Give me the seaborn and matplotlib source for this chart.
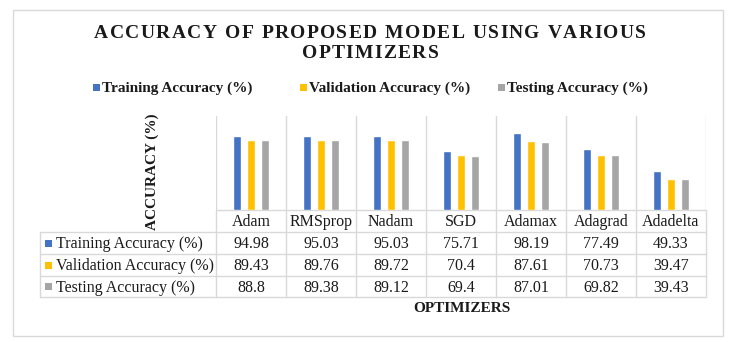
import matplotlib
matplotlib.use("Agg")
import matplotlib.pyplot as plt
import seaborn as sns
import pandas as pd

optimizers = ["Adam", "RMSprop", "Nadam", "SGD", "Adamax", "Adagrad", "Adadelta"]
series_names = ["Training Accuracy (%)", "Validation Accuracy (%)", "Testing Accuracy (%)"]
training = [94.98, 95.03, 95.03, 75.71, 98.19, 77.49, 49.33]
validation = [89.43, 89.76, 89.72, 70.4, 87.61, 70.73, 39.47]
testing = [88.8, 89.38, 89.12, 69.4, 87.01, 69.82, 39.43]
colors = ["#4472C4", "#FFC000", "#A5A5A5"]
grid_color = "#D9D9D9"
text_color = "#1a1a1a"

series_values = [training, validation, testing]
df = pd.DataFrame({
    "Optimizer": optimizers * 3,
    "Metric": [n for n in series_names for _ in optimizers],
    "Accuracy": training + validation + testing,
})

sns.set_theme(style="white")
plt.rcParams["font.family"] = ["Liberation Serif", "DejaVu Serif"]

W, H = 750, 342
fig = plt.figure(figsize=(W / 100, H / 100), dpi=100)
renderer = fig.canvas.get_renderer()

# Overlay axes in pixel coordinates for frame, title, legend and data table
ov = fig.add_axes([0, 0, 1, 1])
ov.set_xlim(0, W)
ov.set_ylim(H, 0)
ov.axis("off")


def spaced_text(axis, xc, y, s, spacing, **kw):
    """Draw a centred string with extra tracking between characters."""
    widths = []
    for ch in s:
        t = axis.text(0, 0, ch if ch != " " else "n", **kw)
        w = t.get_window_extent(renderer).width
        if ch == " ":
            w *= 0.5
        widths.append(w)
        t.remove()
    total = sum(widths) + spacing * (len(s) - 1)
    x = xc - total / 2
    for ch, w in zip(s, widths):
        if ch != " ":
            axis.text(x, y, ch, ha="left", va="center", **kw)
        x += w + spacing


# Plot area
x0, x1, ytop, ybase = 216, 706, 116, 210
ax = fig.add_axes([x0 / W, (H - ybase) / H, (x1 - x0) / W, (ybase - ytop) / H])
sns.barplot(data=df, x="Optimizer", y="Accuracy", hue="Metric", order=optimizers,
            hue_order=series_names, palette=colors, width=0.6, gap=0.43,
            saturation=1, legend=False, ax=ax)
ax.set_ylim(0, 120)
ax.set_xlim(-0.5, len(optimizers) - 0.5)
ax.set_xlabel("")
ax.set_ylabel("")
ax.set_xticks([])
ax.set_yticks([])
for s in ax.spines.values():
    s.set_visible(False)
ax.patch.set_alpha(0)
for i in range(len(optimizers) + 1):
    ax.axvline(i - 0.5, color=grid_color, lw=1, zorder=0)

# Outer chart frame
ov.add_patch(plt.Rectangle((13, 9.5), 710, 326.5, fill=False, ec=grid_color, lw=1))

# Title
title_kw = dict(fontsize=14, fontweight="bold", color=text_color)
spaced_text(ov, 370, 33, "ACCURACY OF PROPOSED MODEL USING VARIOUS", 1.35, **title_kw)
spaced_text(ov, 370, 53, "OPTIMIZERS", 1.35, **title_kw)

# Legend
leg_x = [93, 300, 498]
for lx, name, c in zip(leg_x, series_names, colors):
    ov.add_patch(plt.Rectangle((lx, 84), 7, 7, color=c, lw=0))
    ov.text(lx + 9, 88, name, ha="left", va="center", fontsize=11,
            fontweight="bold", color=text_color)

# Axis titles
ov.text(152, 172, "ACCURACY (%)", rotation=90, ha="center", va="center",
        fontsize=11, fontweight="bold", color=text_color)
ov.text(462, 308, "OPTIMIZERS", ha="center", va="center",
        fontsize=11, fontweight="bold", color=text_color)

# Data table
tl = 40
rows_y = [210, 232, 254, 276, 297]
col_w = (x1 - x0) / len(optimizers)
ov.plot([x0, x1], [rows_y[0], rows_y[0]], color=grid_color, lw=1)
for y in rows_y[1:]:
    ov.plot([tl, x1], [y, y], color=grid_color, lw=1)
ov.plot([tl, tl], [rows_y[1], rows_y[-1]], color=grid_color, lw=1)
for i in range(len(optimizers) + 1):
    xx = x0 + i * col_w
    ov.plot([xx, xx], [rows_y[0], rows_y[-1]], color=grid_color, lw=1)

cell_fs = 11.5
for i, name in enumerate(optimizers):
    ov.text(x0 + (i + 0.5) * col_w, (rows_y[0] + rows_y[1]) / 2 + 1, name,
            ha="center", va="center", fontsize=cell_fs, color=text_color)

for r, (name, vals, c) in enumerate(zip(series_names, series_values, colors)):
    yc = (rows_y[r + 1] + rows_y[r + 2]) / 2 + 1
    ov.add_patch(plt.Rectangle((45, yc - 4.5), 7, 7, color=c, lw=0))
    ov.text(56, yc, name, ha="left", va="center", fontsize=cell_fs, color=text_color)
    for i, v in enumerate(vals):
        ov.text(x0 + (i + 0.5) * col_w, yc, f"{v:g}", ha="center", va="center",
                fontsize=cell_fs, color=text_color)

fig.savefig("out.png", dpi=100)
